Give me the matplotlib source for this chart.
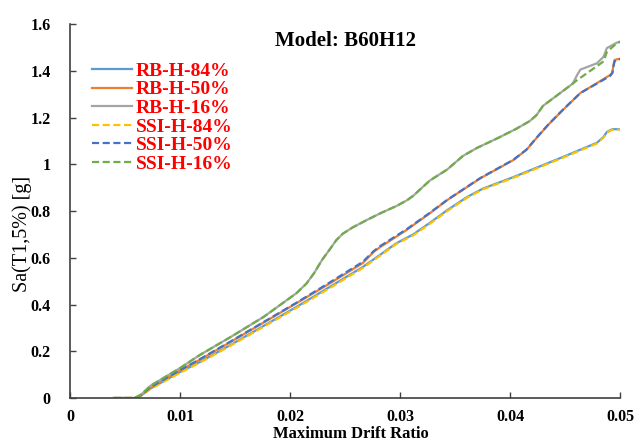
import matplotlib
matplotlib.use("Agg")
import matplotlib.pyplot as plt

# Data
rb84_x = [0.0040, 0.0059, 0.0065, 0.0073, 0.0100, 0.0118, 0.0146, 0.0206, 0.0236, 0.0266, 0.0297, 0.0312, 0.0327, 0.0343, 0.0361, 0.0375, 0.0390, 0.0403, 0.0448, 0.0479, 0.0485, 0.0488, 0.0493, 0.0500]
rb84_y = [0.000, 0.000, 0.012, 0.040, 0.111, 0.154, 0.227, 0.390, 0.475, 0.560, 0.663, 0.700, 0.749, 0.804, 0.860, 0.895, 0.922, 0.945, 1.031, 1.092, 1.117, 1.138, 1.150, 1.150]
ssi84_x = rb84_x
ssi84_y = [0.000, 0.000, 0.011, 0.038, 0.108, 0.151, 0.224, 0.386, 0.470, 0.556, 0.660, 0.696, 0.745, 0.800, 0.857, 0.892, 0.919, 0.942, 1.028, 1.089, 1.114, 1.135, 1.148, 1.148]

rb50_x = [0.0040, 0.0059, 0.0065, 0.0073, 0.0100, 0.0118, 0.0146, 0.0206, 0.0236, 0.0266, 0.0276, 0.0282, 0.0306, 0.0327, 0.0343, 0.0373, 0.0403, 0.0415, 0.0424, 0.0435, 0.0448, 0.0464, 0.0480, 0.0491, 0.0493, 0.0494, 0.0495, 0.0498, 0.0500]
rb50_y = [0.000, 0.000, 0.013, 0.044, 0.118, 0.164, 0.240, 0.406, 0.490, 0.577, 0.625, 0.646, 0.719, 0.790, 0.847, 0.940, 1.018, 1.062, 1.112, 1.170, 1.232, 1.305, 1.350, 1.382, 1.392, 1.425, 1.446, 1.450, 1.450]
ssi50_x = rb50_x
ssi50_y = [0.000, 0.000, 0.013, 0.045, 0.119, 0.166, 0.242, 0.408, 0.494, 0.582, 0.628, 0.650, 0.722, 0.792, 0.848, 0.941, 1.019, 1.063, 1.113, 1.171, 1.233, 1.305, 1.348, 1.378, 1.390, 1.418, 1.440, 1.450, 1.450]

rb16_x = [0.0040, 0.0059, 0.0065, 0.0073, 0.0100, 0.0118, 0.0146, 0.0176, 0.0206, 0.0215, 0.0222, 0.0229, 0.0236, 0.0242, 0.0248, 0.0257, 0.0270, 0.0282, 0.0297, 0.0306, 0.0312, 0.0320, 0.0327, 0.0343, 0.0357, 0.0370, 0.0388, 0.0405, 0.0418, 0.0424, 0.0430, 0.0440, 0.0457, 0.0461, 0.0464, 0.0479, 0.0485, 0.0488, 0.0497, 0.0500]
rb16_y = [0.000, 0.000, 0.016, 0.052, 0.128, 0.184, 0.261, 0.347, 0.449, 0.490, 0.535, 0.590, 0.635, 0.675, 0.703, 0.730, 0.762, 0.790, 0.822, 0.845, 0.865, 0.900, 0.930, 0.978, 1.035, 1.070, 1.110, 1.150, 1.185, 1.210, 1.250, 1.285, 1.345, 1.382, 1.405, 1.432, 1.460, 1.497, 1.520, 1.525]
ssi16_x = [0.0040, 0.0059, 0.0065, 0.0073, 0.0100, 0.0118, 0.0146, 0.0176, 0.0206, 0.0215, 0.0222, 0.0229, 0.0236, 0.0242, 0.0248, 0.0257, 0.0270, 0.0282, 0.0297, 0.0306, 0.0312, 0.0320, 0.0327, 0.0343, 0.0357, 0.0370, 0.0388, 0.0405, 0.0418, 0.0424, 0.0430, 0.0440, 0.0457, 0.0461, 0.0476, 0.0485, 0.0488, 0.0497, 0.0500]
ssi16_y = [0.000, 0.000, 0.016, 0.052, 0.128, 0.184, 0.261, 0.347, 0.449, 0.490, 0.535, 0.590, 0.635, 0.675, 0.703, 0.730, 0.762, 0.790, 0.822, 0.845, 0.865, 0.900, 0.930, 0.978, 1.035, 1.070, 1.110, 1.150, 1.185, 1.210, 1.250, 1.285, 1.345, 1.360, 1.410, 1.440, 1.480, 1.518, 1.523]

labels = ["RB-H-84%", "RB-H-50%", "RB-H-16%", "SSI-H-84%", "SSI-H-50%", "SSI-H-16%"]
x_ticks = [0, 0.01, 0.02, 0.03, 0.04, 0.05]
x_tick_labels = ["0", "0.01", "0.02", "0.03", "0.04", "0.05"]
y_ticks = [0, 0.2, 0.4, 0.6, 0.8, 1.0, 1.2, 1.4, 1.6]
y_tick_labels = ["0", "0.2", "0.4", "0.6", "0.8", "1", "1.2", "1.4", "1.6"]

plt.rcParams['font.family'] = ['Liberation Serif', 'DejaVu Serif']

fig = plt.figure(figsize=(6.34, 4.42), dpi=100)
ax = fig.add_axes([0.1104, 0.0995, 0.8676, 0.8462])

lw = 1.6
dash = (0, (3.2, 1.6))
series = [
    (rb84_x, rb84_y, '#5B9BD5', '-'),
    (rb50_x, rb50_y, '#ED7D31', '-'),
    (rb16_x, rb16_y, '#A5A5A5', '-'),
    (ssi84_x, ssi84_y, '#FFC000', dash),
    (ssi50_x, ssi50_y, '#4472C4', dash),
    (ssi16_x, ssi16_y, '#70AD47', dash),
]
for (xs, ys, c, ls), lab in zip(series, labels):
    ax.plot(xs, ys, color=c, linestyle=ls, linewidth=lw, label=lab,
            solid_joinstyle='round', dash_joinstyle='round')

ax.set_xlim(0, 0.05)
ax.set_ylim(0, 1.6)
ax.set_xticks(x_ticks)
ax.set_xticklabels(x_tick_labels, fontweight='bold', fontsize=11.5)
ax.set_yticks(y_ticks)
ax.set_yticklabels(y_tick_labels, fontweight='bold', fontsize=11.5)
ax.tick_params(direction='in', length=4, width=1, colors='#404040', labelcolor='black', pad=8)
ax.tick_params(axis='y', pad=14)
for s in ['top', 'right']:
    ax.spines[s].set_visible(False)
for s in ['left', 'bottom']:
    ax.spines[s].set_color('#404040')
    ax.spines[s].set_linewidth(1.2)

ax.set_xlabel("Maximum Drift Ratio", fontweight='bold', fontsize=12)
ax.xaxis.set_label_coords(0.51, -0.076)
ax.set_ylabel("Sa(T1,5%) [g]", fontsize=14.5)
ax.yaxis.set_label_coords(-0.069, 0.44)
ax.text(0.5, 0.954, "Model: B60H12", transform=ax.transAxes, ha='center', va='center',
        fontweight='bold', fontsize=15)

leg = ax.legend(loc='upper left', bbox_to_anchor=(0.04, 0.898), frameon=False,
                prop={'weight': 'bold', 'size': 14}, handlelength=2.05,
                handletextpad=0.2, labelspacing=0.05, borderaxespad=0, borderpad=0)
for t in leg.get_texts():
    t.set_color('red')

fig.savefig("out.png", dpi=100)
